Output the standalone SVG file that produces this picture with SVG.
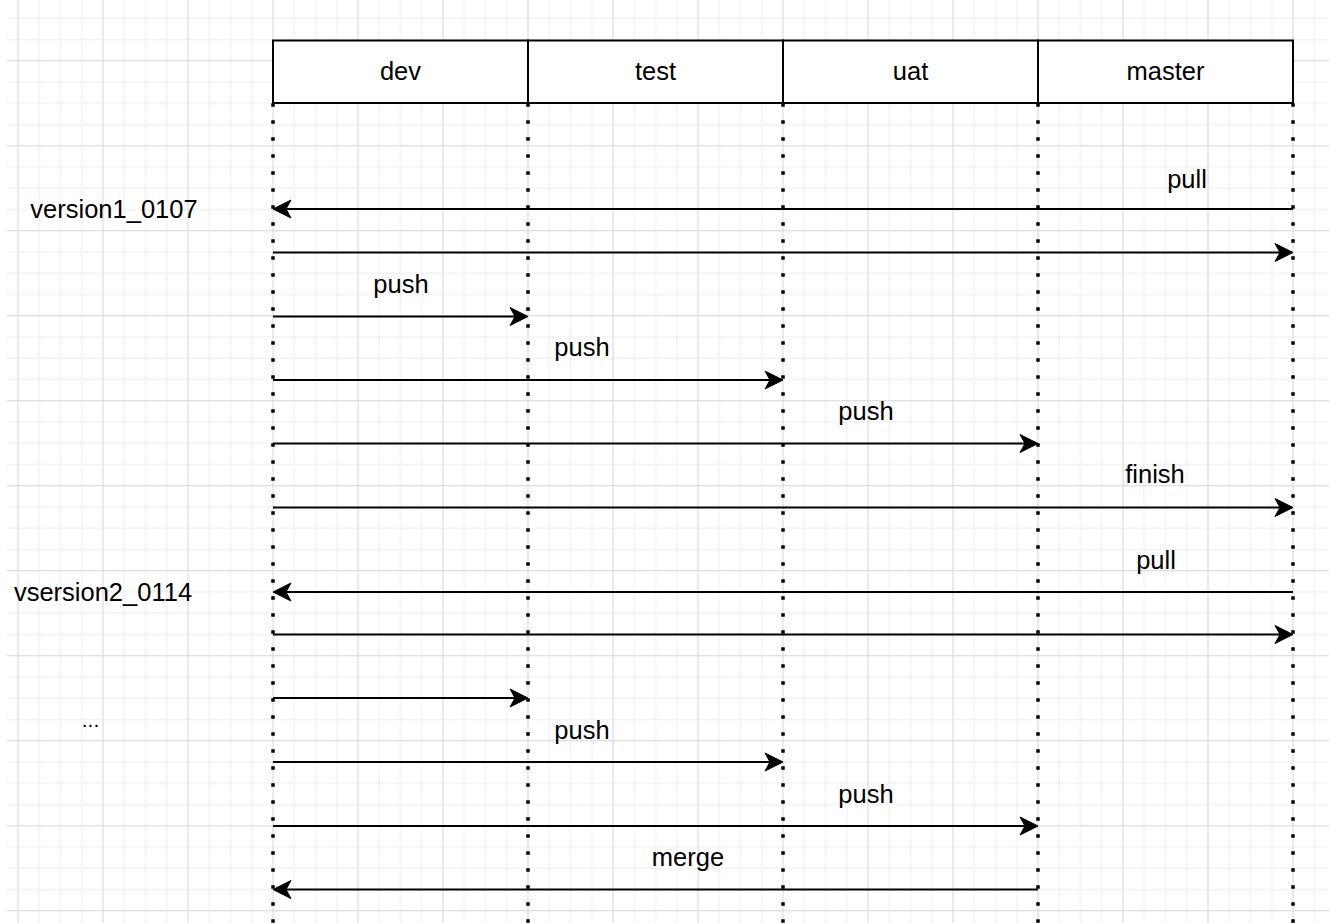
<svg xmlns="http://www.w3.org/2000/svg" width="1329" height="923" viewBox="0 0 1329 923">
<style>
text{font-family:"Liberation Sans",Arial,Helvetica,sans-serif;font-size:25.5px;fill:#000;text-anchor:middle}
.cell{fill:#fff;stroke:#000;stroke-width:2}
.life{stroke:#000;stroke-width:3.5;stroke-dasharray:3.5 13.5;fill:none}
.msg{stroke:#000;stroke-width:2;fill:none;marker-end:url(#arr)}
</style>
<defs>
<pattern id="grid" x="17.5" y="60.25" width="85" height="85" patternUnits="userSpaceOnUse">
<path d="M21.75 0V85M43 0V85M64.25 0V85M0 21.75H85M0 43H85M0 64.25H85" stroke="#ececec" stroke-width="1"/>
<path d="M0.5 0V85M0 0.5H85" stroke="#d5d5d5" stroke-width="1"/>
</pattern>
<marker id="arr" markerUnits="userSpaceOnUse" viewBox="-19 -10 20 20" markerWidth="20" markerHeight="20" refX="-9" refY="0" orient="auto">
<path d="M0,0 L-18,-9 L-13,0 L-18,9 Z" fill="#000" stroke="#000" stroke-width="1" stroke-linejoin="miter"/>
</marker>
</defs>
<rect width="1329" height="923" fill="#fff"/>
<rect x="7" y="0" width="1322" height="923" fill="url(#grid)"/>

<g id="lifelines">
<path class="life" d="M273 103.25V923"/>
<path class="life" d="M528 103.25V923"/>
<path class="life" d="M783 103.25V923"/>
<path class="life" d="M1038 103.25V923"/>
<path class="life" d="M1293 103.25V923"/>
</g>

<g id="node-dev"><rect class="cell" x="273" y="40.5" width="255" height="62.5"/><text x="400.5" y="80">dev</text></g>
<g id="node-test"><rect class="cell" x="528" y="40.5" width="255" height="62.5"/><text x="655.5" y="80">test</text></g>
<g id="node-uat"><rect class="cell" x="783" y="40.5" width="255" height="62.5"/><text x="910.5" y="80">uat</text></g>
<g id="node-master"><rect class="cell" x="1038" y="40.5" width="255" height="62.5"/><text x="1165.5" y="80">master</text></g>

<g id="connectors">
<path class="msg" d="M1293 209H282"/>
<path class="msg" d="M273 252.5H1284"/>
<path class="msg" d="M273 316.5H519"/>
<path class="msg" d="M273 380H774"/>
<path class="msg" d="M273 443.5H1029"/>
<path class="msg" d="M273 507.5H1284"/>
<path class="msg" d="M1293 592H282"/>
<path class="msg" d="M273 634.5H1284"/>
<path class="msg" d="M273 698H519"/>
<path class="msg" d="M273 762H774"/>
<path class="msg" d="M273 826H1029"/>
<path class="msg" d="M1038 889.5H282"/>
</g>

<g id="labels">
<text x="1187" y="188">pull</text>
<text x="401" y="293">push</text>
<text x="582" y="356">push</text>
<text x="866" y="420">push</text>
<text x="1155" y="483">finish</text>
<text x="1156" y="569">pull</text>
<text x="582" y="739">push</text>
<text x="866" y="803">push</text>
<text x="688" y="866">merge</text>
</g>

<g id="side-labels">
<text x="114" y="218">version1_0107</text>
<text x="103" y="601">vsersion2_0114</text>
<text x="90.5" y="727" style="font-size:21px">...</text>
</g>
</svg>
